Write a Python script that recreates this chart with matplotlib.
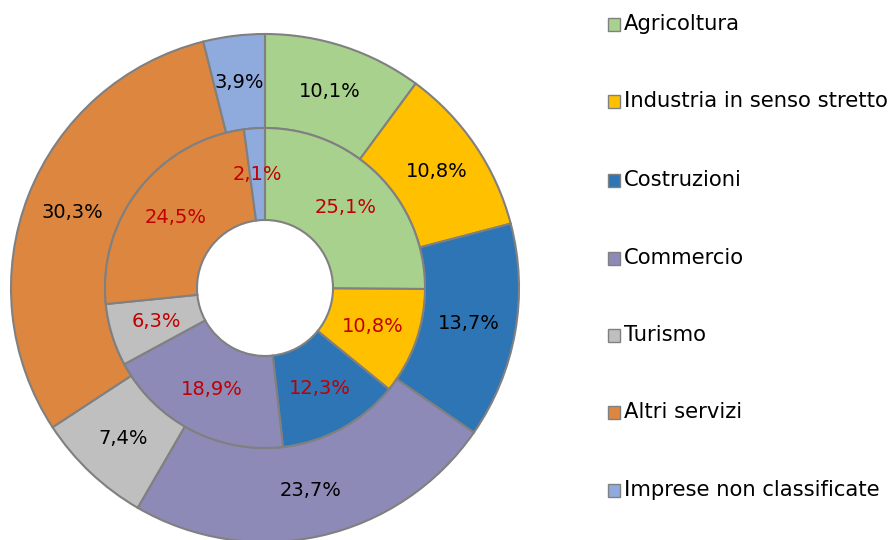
import matplotlib
matplotlib.use("Agg")
import matplotlib.pyplot as plt
from matplotlib.patches import Rectangle
import numpy as np

categories = ["Agricoltura", "Industria in senso stretto", "Costruzioni", "Commercio",
              "Turismo", "Altri servizi", "Imprese non classificate"]
outer_values = [10.1, 10.8, 13.7, 23.7, 7.4, 30.3, 3.9]
inner_values = [25.1, 10.8, 12.3, 18.9, 6.3, 24.5, 2.1]
colors = ["#A9D18E", "#FFC000", "#2E75B6", "#8E8AB8", "#BFBFBF", "#DD8640", "#8FAADC"]

W, H = 894, 540
fig = plt.figure(figsize=(W / 100, H / 100), dpi=100)
ax = fig.add_axes([0, 0, 1, 1])

cx, cy = 265, H - 288
R_out, R_mid, R_in = 254, 160, 68

def fmt(v):
    return f"{v:.1f}%".replace(".", ",")

wedge_kw = dict(edgecolor="#808080", linewidth=1.5)
w_out, _ = ax.pie(outer_values, colors=colors, startangle=90, counterclock=False,
                  center=(cx, cy), radius=R_out,
                  wedgeprops=dict(width=R_out - R_mid, **wedge_kw))
w_in, _ = ax.pie(inner_values, colors=colors, startangle=90, counterclock=False,
                 center=(cx, cy), radius=R_mid,
                 wedgeprops=dict(width=R_mid - R_in, **wedge_kw))

def place_labels(values, r, color):
    total = sum(values)
    start = 90.0
    for v in values:
        ang = start - v / total * 360 / 2
        a = np.deg2rad(ang)
        ax.text(cx + r * np.cos(a), cy + r * np.sin(a), fmt(v), ha="center", va="center",
                fontsize=14, color=color, family="DejaVu Sans")
        start -= v / total * 360

place_labels(outer_values, (R_out + R_mid) / 2, "black")
place_labels(inner_values, (R_mid + R_in) / 2, "#C00000")

ax.set_xlim(0, W)
ax.set_ylim(0, H)
ax.set_aspect("equal")
ax.axis("off")

# legend
ys = [24, 101, 180, 258, 335, 412, 490]
for cat, col, y in zip(categories, colors, ys):
    yy = H - y
    ax.add_patch(Rectangle((607.5, yy - 6.5), 12.5, 12.5, facecolor=col, edgecolor="#808080", linewidth=1))
    ax.text(624, yy, cat, ha="left", va="center", fontsize=15.2, color="black", family="DejaVu Sans")

fig.savefig("out.png", dpi=100)
